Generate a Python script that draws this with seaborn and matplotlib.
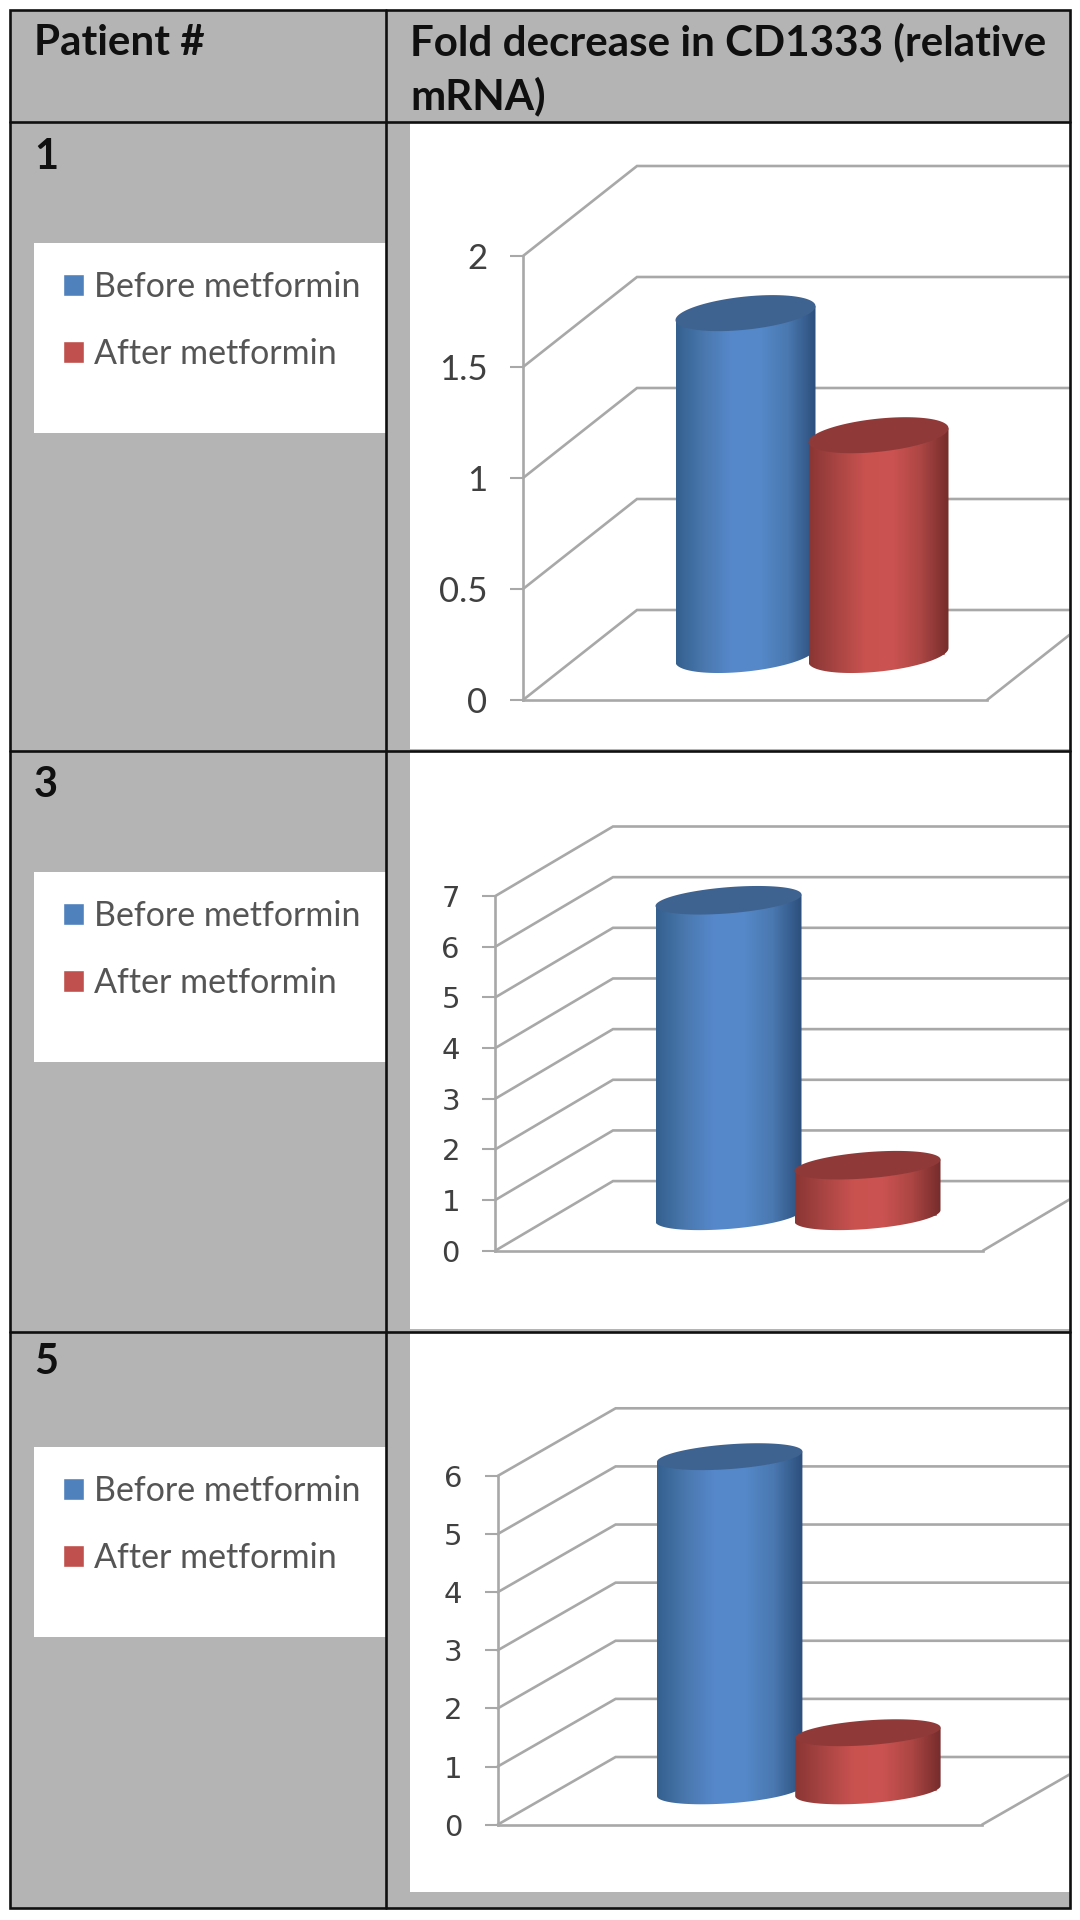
import numpy as np
import pandas as pd
import seaborn as sns
import matplotlib.pyplot as plt
from matplotlib.colors import LinearSegmentedColormap
from matplotlib.patches import Polygon, Rectangle
from matplotlib.transforms import Affine2D

# Values
patients = ['1', '3', '5']
before_values = [1.54, 6.23, 5.75]
after_values = [0.99, 1.0, 1.0]
tick_values = [[0, 0.5, 1, 1.5, 2], [0, 1, 2, 3, 4, 5, 6, 7], [0, 1, 2, 3, 4, 5, 6]]
tick_labels = [['0', '0.5', '1', '1.5', '2'],
               ['0', '1', '2', '3', '4', '5', '6', '7'],
               ['0', '1', '2', '3', '4', '5', '6']]
states = ['Before metformin', 'After metformin']
headers = ['Patient #', 'Fold decrease in CD1333 (relative\nmRNA)']

# Layout of the three charts, in pixels of the 1080x1920 picture
spine_x = [523, 495.4, 497.6]
floor_x = [987, 983, 982]
zero_y = [700, 1250.6, 1824.7]
top_y = [256, 896, 1476]
depth_x = [114, 117.6, 118]
depth_y = [90, 69.5, 67.7]
bar_half = [70, 73, 72.7]
cap_b = [16.6, 13.1, 12.4]
cap_tilt = [7, 5.7, 5.2]
bar_step = [133, 139, 138.2]
row_top = [122, 751, 1332]
row_white_bottom = [749, 1329, 1892]
legend_top = [243, 872, 1447]
number_y = [169, 797, 1374]
tick_font = ['Lato', 'DejaVu Sans', 'DejaVu Sans']
tick_size = [25, 21, 21]
tick_pad = [16, 16, 16]

W, H = 1080, 1920
GRAY = '#b4b4b4'
GRID = '#a8a8a8'
BLACK = '#101010'
BAR_COLORS = ['#4f81bd', '#c0504d']
BODY_COLORS = [['#34608f', '#4a78ae', '#5688cb', '#5589c9', '#4a78b0', '#2c4f7c'],
               ['#8a3634', '#a94543', '#c9524f', '#cb5351', '#ac4644', '#752c2b']]
CAP_COLORS = ['#3e6390', '#8f3a38']

sns.set_theme(style='white')
plt.rcParams['font.family'] = ['Lato', 'DejaVu Sans']

fig = plt.figure(figsize=(W / 100, H / 100), dpi=100, facecolor='white')

# Table cells underneath everything
bg = fig.add_axes([0, 0, 1, 1], zorder=0)
bg.set_xlim(0, W)
bg.set_ylim(H, 0)
bg.axis('off')
bg.add_patch(Rectangle((10, 10), 1060, 1898, color=GRAY, lw=0))
for i in range(3):
    bg.add_patch(Rectangle((410, row_top[i]), 660, row_white_bottom[i] - row_top[i], color='white', lw=0))
    bg.add_patch(Rectangle((34, legend_top[i]), 352, 190, color='white', lw=0))

# Overlay for the 3D walls, cylinders and table rules
px = fig.add_axes([0, 0, 1, 1], zorder=2)
px.set_xlim(0, W)
px.set_ylim(H, 0)
px.axis('off')
px.patch.set_alpha(0)


def to_px(ax, x, y):
    dx, dy = ax.transData.transform((x, y))
    return dx, H - dy


def draw_cylinder(cx, base_y, top, a, b, tilt, s):
    t = np.linspace(np.pi, 0, 80)
    xs = cx + a * np.cos(t)
    lower = base_y - tilt * np.cos(t) + b * np.sin(t)
    outline = np.column_stack([xs, lower])
    outline = np.vstack([outline, [cx + a, top - tilt], [cx - a, top + tilt]])
    body = Polygon(outline, closed=True, transform=px.transData, fc='none', ec='none')
    px.add_patch(body)
    cmap = LinearSegmentedColormap.from_list('body', BODY_COLORS[s])
    grad = np.linspace(0, 1, 256).reshape(1, -1)
    im = px.imshow(grad, cmap=cmap, aspect='auto', zorder=5 + s,
                   extent=(cx - a, cx + a, base_y + b + tilt, top - tilt - b))
    im.set_clip_path(body)
    t = np.linspace(0, 2 * np.pi, 120)
    cap = np.column_stack([cx + a * np.cos(t), top - tilt * np.cos(t) + b * np.sin(t)])
    px.add_patch(Polygon(cap, closed=True, fc=CAP_COLORS[s], ec='none', zorder=5.5 + s))


for i in range(3):
    ax = fig.add_axes([spine_x[i] / W, 1 - zero_y[i] / H,
                       (floor_x[i] - spine_x[i]) / W, (zero_y[i] - top_y[i]) / H], zorder=1)
    ax.patch.set_alpha(0)
    df = pd.DataFrame({'patient': [patients[i]] * 2, 'state': states,
                       'value': [before_values[i], after_values[i]]})
    sns.barplot(data=df, x='patient', y='value', hue='state', palette=BAR_COLORS,
                width=2 * bar_step[i] / (floor_x[i] - spine_x[i]), saturation=1, ax=ax)
    ax.set_xlim(-0.5, 0.5)
    ax.set_ylim(0, tick_values[i][-1])
    ax.set_xlabel('')
    ax.set_ylabel('')
    ax.set_xticks([])
    ax.set_yticks(tick_values[i])
    ax.set_yticklabels(tick_labels[i], fontfamily=tick_font[i], fontsize=tick_size[i], color='#404040')
    ax.tick_params(axis='y', left=True, length=9.5, width=1.5, color=GRID, pad=tick_pad[i])
    sns.despine(ax=ax, top=True, right=True)
    for side in ['left', 'bottom']:
        ax.spines[side].set_color(GRID)
        ax.spines[side].set_linewidth(1.9)

    # walls and back lines come from the tick values on the axis scale
    panel = Rectangle((410, row_top[i]), 659, row_white_bottom[i] - row_top[i], transform=px.transData)
    for v in tick_values[i]:
        fx, fy = to_px(ax, -0.5, v)
        bx, by = fx + depth_x[i], fy - depth_y[i]
        px.plot([fx, bx, 1069], [fy, by, by], color=GRID, lw=1.9, zorder=3, solid_joinstyle='miter')
    fx, fy = to_px(ax, 0.5, 0)
    line, = px.plot([fx, fx + depth_x[i]], [fy, fy - depth_y[i]], color=GRID, lw=1.9, zorder=3)
    line.set_clip_path(panel)

    # seaborn's bars stand on the middle of the floor, the cylinders are laid over them
    shift = Affine2D().translate(depth_x[i] / 2, depth_y[i] / 2)
    bars = [p for p in ax.patches if p.get_height() > 0]
    for s, bar in enumerate(bars):
        bar.set_transform(ax.transData + shift)
        cx, top = to_px(ax, bar.get_x() + bar.get_width() / 2, bar.get_height())
        _, base = to_px(ax, 0, 0)
        draw_cylinder(cx + depth_x[i] / 2, base - depth_y[i] / 2, top - depth_y[i] / 2,
                      bar_half[i], cap_b[i], cap_tilt[i], s)

    sns.move_legend(ax, 'upper left', bbox_to_anchor=(32 / W, 1 - (legend_top[i] - 3) / H),
                    bbox_transform=fig.transFigure, frameon=False, title=None,
                    fontsize=24.5, handlelength=0.62, handleheight=0.62, handletextpad=0.3,
                    labelspacing=1.05, labelcolor='#555555')

    px.text(34, number_y[i], patients[i], fontsize=30, fontweight='bold', color=BLACK, va='baseline')

px.text(34, 55, headers[0], fontsize=30.3, fontweight='bold', color=BLACK, va='baseline')
px.text(410, 55, headers[1].split('\n')[0], fontsize=30.3, fontweight='bold', color=BLACK, va='baseline')
px.text(410, 109, headers[1].split('\n')[1], fontsize=30.3, fontweight='bold', color=BLACK, va='baseline')

# Table rules
px.add_patch(Rectangle((10, 10), 1060, 1898, fc='none', ec=BLACK, lw=1.9, zorder=10))
for y in [122, 751, 1332]:
    px.plot([10, 1070], [y, y], color=BLACK, lw=1.9, zorder=10)
px.plot([386, 386], [10, 1908], color=BLACK, lw=1.9, zorder=10)
px.set_xlim(0, W)
px.set_ylim(H, 0)

fig.savefig('out.png', dpi=100)
